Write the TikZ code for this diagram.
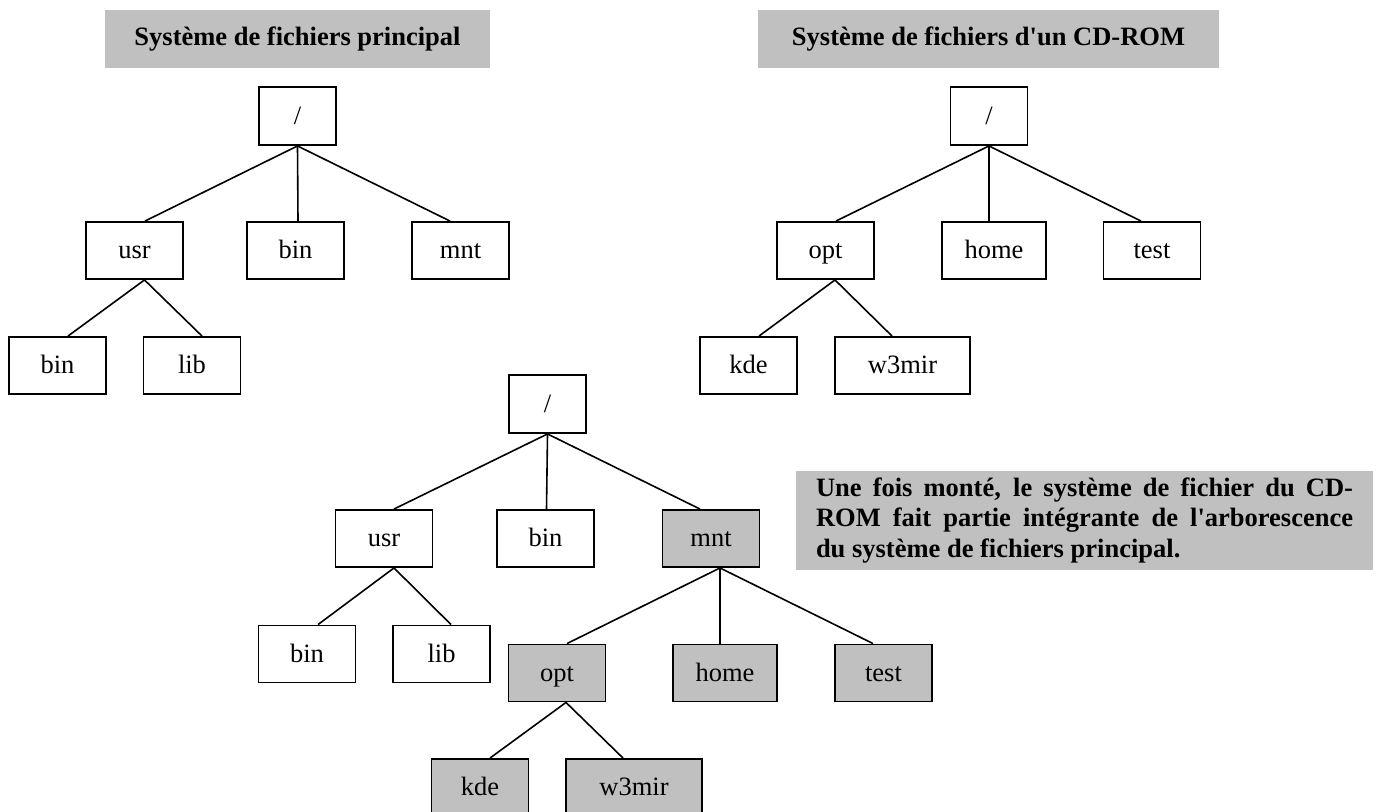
\documentclass[tikz,border=0pt]{standalone}
\usepackage{fontspec}
\setmainfont{Liberation Serif}[Ligatures=TeXOff]
\definecolor{shade}{HTML}{C0C0C0}
\begin{document}
\begin{tikzpicture}[x=1pt,y=-1pt,
  fbox/.style={draw, line width=1.9pt, fill=white, minimum width=97pt, minimum height=57pt, inner sep=0pt,
    text height=20pt, text depth=4pt, font=\fontsize{26.5}{30}\selectfont},
  gbox/.style={fbox, fill=shade},
  ttl/.style={fill=shade, minimum height=58pt, inner sep=0pt, text height=19pt, text depth=7pt,
    font=\bfseries\fontsize{26.5}{30}\selectfont},
  edge/.style={line width=1.6pt}]
\useasboundingbox (0,0) rectangle (1381,811);

% ---------- titles ----------
\node[ttl, minimum width=385pt] (t1) at (297.5,39) {Système de fichiers principal};
\node[ttl, minimum width=461pt] (t2) at (988.5,39) {Système de fichiers d'un CD-ROM};

% ---------- tree 1 ----------
\node[fbox, minimum width=77pt, minimum height=58pt] (r1) at (297.5,116) {/};
\node[fbox] (u1) at (134.5,250.5) {usr};
\node[fbox] (b1) at (295.5,250.5) {bin};
\node[fbox] (m1) at (460.5,250.5) {mnt};
\node[fbox] (bb1) at (57.5,365.5) {bin};
\node[fbox] (l1) at (192,365.5) {lib};
\draw[edge] (r1.south) -- ([xshift=10.5pt]u1.north);
\draw[edge] (r1.south) -- ([xshift=2.5pt]b1.north);
\draw[edge] (r1.south) -- ([xshift=-10.5pt]m1.north);
\draw[edge] ([xshift=10pt]u1.south) -- ([xshift=10.5pt]bb1.north);
\draw[edge] ([xshift=10pt]u1.south) -- ([xshift=10pt]l1.north);

% ---------- tree 2 ----------
\node[fbox, minimum width=77pt, minimum height=58pt] (r2) at (989,116) {/};
\node[fbox] (o2) at (825.5,250.5) {opt};
\node[fbox, minimum width=104pt] (h2) at (994,250.5) {home};
\node[fbox] (te2) at (1152,250.5) {test};
\node[fbox] (k2) at (748.5,365.5) {kde};
\node[fbox, minimum width=135pt] (w2) at (902.5,365.5) {w3mir};
\draw[edge] (r2.south) -- ([xshift=10.5pt]o2.north);
\draw[edge] (r2.south) -- ([xshift=-5pt]h2.north);
\draw[edge] (r2.south) -- ([xshift=-11pt]te2.north);
\draw[edge] ([xshift=9.5pt]o2.south) -- ([xshift=10.5pt]k2.north);
\draw[edge] ([xshift=9.5pt]o2.south) -- ([xshift=-10.5pt]w2.north);

% ---------- tree 3 ----------
\node[fbox, minimum width=77pt, minimum height=58pt] (r3) at (547.5,404) {/};
\node[fbox] (u3) at (384,538.5) {usr};
\node[fbox] (b3) at (545.5,538.5) {bin};
\node[gbox] (m3) at (711,538.5) {mnt};
\node[fbox] (bb3) at (307,654) {bin};
\node[fbox] (l3) at (441.5,654) {lib};
\node[gbox] (o3) at (557,673) {opt};
\node[gbox, minimum width=104pt] (h3) at (725,673) {home};
\node[gbox] (te3) at (883.5,673) {test};
\node[gbox] (k3) at (480,787.5) {kde};
\node[gbox, minimum width=136pt] (w3) at (634,787.5) {w3mir};
\draw[edge] (r3.south) -- ([xshift=10pt]u3.north);
\draw[edge] (r3.south) -- ([xshift=1pt]b3.north);
\draw[edge] (r3.south) -- ([xshift=-11pt]m3.north);
\draw[edge] ([xshift=10pt]u3.south) -- ([xshift=11pt]bb3.north);
\draw[edge] ([xshift=10pt]u3.south) -- ([xshift=9.5pt]l3.north);
\draw[edge] ([xshift=9pt]m3.south) -- ([xshift=10pt]o3.north);
\draw[edge] ([xshift=9pt]m3.south) -- ([xshift=-5pt]h3.north);
\draw[edge] ([xshift=9pt]m3.south) -- ([xshift=-10.5pt]te3.north);
\draw[edge] ([xshift=9pt]o3.south) -- ([xshift=10pt]k3.north);
\draw[edge] ([xshift=9pt]o3.south) -- ([xshift=-11pt]w3.north);

% ---------- note ----------
\node[fill=shade, text width=537pt, align=justify, inner xsep=20pt, inner ysep=0pt,
      minimum height=99pt, font=\bfseries\fontsize{26.5}{30.5}\selectfont] (note) at (1084.5,520.5)
  {Une fois monté, le système de fichier du CD-\linebreak ROM fait partie intégrante de l'arborescence\linebreak du système de fichiers principal.};
\end{tikzpicture}
\end{document}
